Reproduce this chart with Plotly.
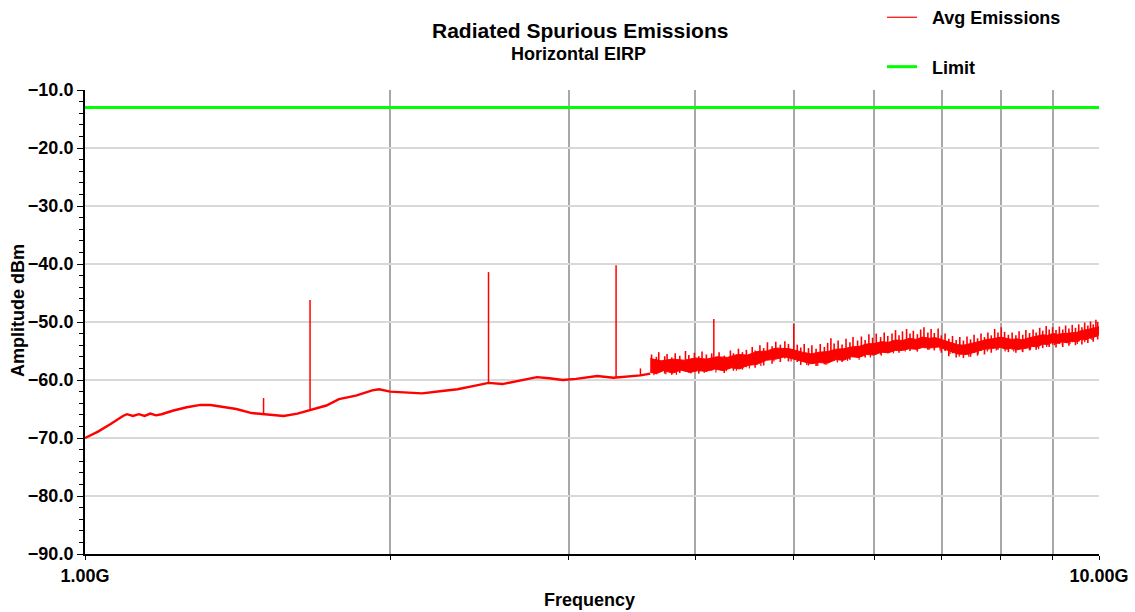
import plotly.graph_objects as go

# ---------------- data (frequencies in GHz, amplitudes in dBm) ----------------
line_freq = [1.000, 1.030, 1.060, 1.090, 1.100, 1.115, 1.130, 1.145, 1.160, 1.175,
             1.190, 1.220, 1.260, 1.300, 1.330, 1.370, 1.410, 1.460, 1.520, 1.570,
             1.620, 1.667, 1.700, 1.730, 1.780, 1.850, 1.920, 1.950, 2.000, 2.080,
             2.150, 2.250, 2.330, 2.420, 2.500, 2.580, 2.650, 2.720, 2.790, 2.870,
             2.960, 3.050, 3.200, 3.320, 3.450, 3.530, 3.610]
line_amp = [-70.0, -68.9, -67.6, -66.2, -65.9, -66.2, -65.9, -66.2, -65.8, -66.1,
            -65.9, -65.3, -64.7, -64.3, -64.3, -64.6, -65.0, -65.7, -66.0, -66.2,
            -65.8, -65.2, -64.9, -64.4, -63.3, -62.7, -61.8, -61.6, -62.0, -62.1,
            -62.3, -61.9, -61.6, -61.0, -60.5, -60.7, -60.3, -59.8, -59.5, -59.7,
            -60.0, -59.8, -59.3, -59.6, -59.4, -59.2, -58.9]

band_top_freq = [3.61, 3.70, 3.80, 3.90, 4.00, 4.10, 4.20, 4.30, 4.40, 4.50,
                 4.60, 4.70, 4.80, 4.95, 5.10, 5.20, 5.30, 5.40, 5.50, 5.60,
                 5.70, 5.80, 5.90, 6.00, 6.10, 6.20, 6.30, 6.40, 6.50, 6.60,
                 6.70, 6.80, 6.90, 7.05, 7.15, 7.25, 7.35, 7.45, 7.55, 7.65,
                 7.75, 7.85, 8.00, 8.10, 8.20, 8.30, 8.40, 8.50, 8.60, 8.70,
                 8.80, 8.90, 9.00, 9.10, 9.20, 9.30, 9.40, 9.50, 9.60, 9.70,
                 9.80, 9.90, 10.00]
band_top_amp = [-56.3, -56.7, -56.4, -56.6, -56.2, -56.4, -56.0, -56.1, -55.6, -55.7,
                -55.1, -55.0, -54.5, -54.6, -55.2, -55.5, -55.2, -55.1, -54.7, -54.6,
                -54.3, -54.2, -53.8, -53.7, -53.4, -53.5, -53.1, -53.2, -52.8, -53.0,
                -52.6, -52.8, -52.7, -53.2, -53.6, -53.9, -54.0, -53.8, -53.6, -53.3,
                -53.0, -52.9, -52.6, -52.8, -53.0, -52.9, -53.1, -52.8, -52.6, -52.5,
                -52.2, -52.3, -52.0, -52.1, -52.0, -51.9, -51.8, -51.8, -51.5, -51.4,
                -51.2, -51.0, -50.8]

band_bot_freq = [3.61, 3.66, 3.72, 3.80, 3.87, 3.95, 4.02, 4.10, 4.18, 4.26,
                 4.34, 4.42, 4.50, 4.60, 4.70, 4.80, 4.90, 5.00, 5.10, 5.20,
                 5.30, 5.40, 5.50, 5.60, 5.70, 5.80, 5.90, 6.00, 6.10, 6.20,
                 6.30, 6.40, 6.50, 6.60, 6.70, 6.80, 6.95, 7.10, 7.25, 7.40,
                 7.55, 7.70, 7.85, 8.00, 8.10, 8.20, 8.30, 8.40, 8.50, 8.60,
                 8.70, 8.80, 8.90, 9.00, 9.10, 9.20, 9.30, 9.40, 9.50, 9.60,
                 9.70, 9.80, 9.90, 10.00]
band_bot_amp = [-58.7, -58.9, -58.4, -58.8, -58.3, -58.7, -58.4, -58.5, -58.1, -58.4,
                -57.9, -58.1, -57.5, -57.3, -56.6, -56.4, -56.0, -56.4, -56.8, -57.2,
                -57.0, -57.1, -56.5, -56.6, -56.0, -56.1, -55.6, -55.7, -55.2, -55.3,
                -54.9, -54.9, -54.6, -54.7, -54.4, -54.5, -54.3, -54.9, -55.5, -55.6,
                -55.2, -54.7, -54.6, -54.4, -54.7, -54.5, -54.8, -54.6, -54.5, -54.2,
                -54.3, -53.8, -53.9, -53.5, -53.7, -53.4, -53.6, -53.3, -53.4, -53.0,
                -53.1, -52.7, -52.6, -52.2]

# tips of the narrow noise peaks that rise above the dense band
noise_peak_freq = [3.62, 3.66, 3.68, 3.73, 3.75, 3.79, 3.82, 3.86, 3.91, 3.94,
                   3.99, 4.03, 4.06, 4.10, 4.15, 4.22, 4.27, 4.33, 4.36, 4.41,
                   4.45, 4.49, 4.55, 4.58, 4.63, 4.67, 4.71, 4.76, 4.80, 4.85,
                   4.90, 4.94, 5.04, 5.08, 5.12, 5.17, 5.21, 5.26, 5.31, 5.36,
                   5.40, 5.44, 5.48, 5.53, 5.58, 5.63, 5.68, 5.72, 5.78, 5.83,
                   5.88, 5.93, 5.98, 6.03, 6.09, 6.14, 6.19, 6.25, 6.30, 6.35,
                   6.40, 6.46, 6.51, 6.56, 6.62, 6.67, 6.72, 6.78, 6.83, 6.88,
                   6.94, 6.99, 7.05, 7.11, 7.17, 7.23, 7.29, 7.35, 7.41, 7.47,
                   7.53, 7.59, 7.65, 7.71, 7.77, 7.83, 7.89, 7.95, 8.01, 8.07,
                   8.14, 8.21, 8.28, 8.34, 8.41, 8.47, 8.54, 8.61, 8.67, 8.74,
                   8.80, 8.87, 8.93, 9.00, 9.07, 9.14, 9.21, 9.27, 9.34, 9.41,
                   9.48, 9.55, 9.62, 9.68, 9.75, 9.81, 9.87, 9.93, 9.97]
noise_peak_amp = [-55.6, -56.0, -55.2, -55.9, -55.5, -56.1, -55.4, -55.8, -55.0, -55.7,
                  -55.3, -55.9, -55.1, -55.6, -55.4, -55.2, -55.8, -54.9, -55.4, -54.6,
                  -55.2, -54.8, -54.3, -54.9, -54.0, -54.5, -53.5, -54.2, -53.4, -53.9,
                  -53.3, -53.8, -53.9, -54.4, -53.8, -54.5, -54.0, -54.6, -53.8, -54.3,
                  -53.6, -52.8, -53.7, -53.2, -53.9, -52.9, -53.5, -52.6, -53.2, -52.5,
                  -53.1, -52.1, -52.7, -52.0, -52.6, -51.8, -52.4, -52.0, -51.4, -52.3,
                  -51.6, -51.2, -52.0, -51.5, -52.1, -51.3, -50.9, -51.8, -51.2, -51.9,
                  -51.1, -52.3, -52.0, -52.9, -52.4, -53.1, -52.6, -53.2, -52.5, -53.0,
                  -52.2, -52.8, -52.0, -52.6, -51.8, -52.3, -51.2, -51.8, -50.9, -51.7,
                  -52.2, -51.8, -52.3, -51.6, -52.2, -51.4, -51.9, -51.3, -51.8, -51.0,
                  -51.5, -50.7, -51.3, -50.9, -51.4, -50.8, -51.3, -50.6, -51.1, -50.5,
                  -51.0, -50.4, -50.9, -50.1, -50.6, -49.9, -50.4, -49.6, -50.0]
noise_peak_depth = 3.0  # drawn length of each upward noise peak, dB

# tips of the narrow noise dips below the dense band
noise_dip_freq = [3.64, 3.74, 3.83, 3.96, 4.08, 4.19, 4.29, 4.39, 4.52, 4.64,
                  4.78, 4.97, 5.15, 5.28, 5.38, 5.52, 5.65, 5.80, 5.95, 6.10,
                  6.27, 6.44, 6.62, 6.80, 6.97, 7.13, 7.28, 7.44, 7.60, 7.76,
                  7.92, 8.08, 8.24, 8.40, 8.56, 8.72, 8.88, 9.04, 9.20, 9.36,
                  9.52, 9.68, 9.84]
noise_dip_amp = [-59.2, -59.0, -59.1, -58.9, -58.8, -58.7, -58.5, -58.4, -58.0, -57.6,
                 -56.8, -56.8, -57.4, -57.6, -57.4, -57.0, -56.7, -56.5, -56.1, -55.8,
                 -55.4, -55.1, -55.0, -54.8, -54.9, -55.5, -56.0, -56.0, -55.5, -55.1,
                 -54.9, -55.1, -55.1, -55.1, -54.8, -54.7, -54.3, -54.0, -54.0, -53.8,
                 -53.8, -53.5, -53.1]
noise_dip_depth = 2.0  # drawn length of each downward noise dip, dB

spike_freq = [1.50, 1.667, 2.50, 3.34, 3.53, 4.17, 5.00]
spike_base = [-65.8, -65.2, -60.5, -59.6, -59.2, -56.5, -55.0]
spike_peak = [-63.1, -46.2, -41.4, -40.2, -58.0, -49.5, -50.3]

limit_freq = [1.0, 10.0]
limit_amp = [-13.0, -13.0]

y_ticks = [-90, -80, -70, -60, -50, -40, -30, -20, -10]
x_ticks = [1, 2, 3, 4, 5, 6, 7, 8, 9, 10]
x_ticktext = ["1.00G", "", "", "", "", "", "", "", "", "10.00G"]

# ---------------- figure ----------------
RED = "#ff0000"
GREEN = "#00ff00"
FONT = "Liberation Sans, Arial, sans-serif"
NB = "\u00a0\u00a0"

fig = go.Figure()

# dense noise band (polygon: top envelope then bottom envelope reversed)
fig.add_trace(go.Scatter(
    x=band_top_freq + band_bot_freq[::-1],
    y=band_top_amp + band_bot_amp[::-1],
    mode="lines", fill="toself", fillcolor=RED,
    line=dict(color=RED, width=1),
    legendgroup="avg", showlegend=False, hoverinfo="skip"))

# narrow noise peaks
nx, ny = [], []
for f, p in zip(noise_peak_freq, noise_peak_amp):
    nx += [f, f, None]
    ny += [p, p - noise_peak_depth, None]
fig.add_trace(go.Scatter(x=nx, y=ny, mode="lines",
                         line=dict(color=RED, width=1.6),
                         legendgroup="avg", showlegend=False, hoverinfo="skip"))

# continuous low-frequency trace
fig.add_trace(go.Scatter(x=line_freq, y=line_amp, mode="lines",
                         line=dict(color=RED, width=2.4),
                         legendgroup="avg", showlegend=False))

# discrete spurs
sx, sy = [], []
for f, b, p in zip(spike_freq, spike_base, spike_peak):
    sx += [f, f, None]
    sy += [b, p, None]
fig.add_trace(go.Scatter(x=sx, y=sy, mode="lines",
                         line=dict(color=RED, width=1.5),
                         legendgroup="avg", showlegend=False))

# narrow noise dips (carries the thin legend entry)
dx, dy = [], []
for f, p in zip(noise_dip_freq, noise_dip_amp):
    dx += [f, f, None]
    dy += [p, p + noise_dip_depth, None]
fig.add_trace(go.Scatter(x=dx, y=dy, mode="lines",
                         line=dict(color=RED, width=1.2),
                         name=NB + "Avg Emissions", legendgroup="avg"))

fig.add_trace(go.Scatter(x=limit_freq, y=limit_amp, mode="lines",
                         line=dict(color=GREEN, width=3),
                         name=NB + "Limit", legendgroup="lim"))

fig.update_layout(
    width=1135, height=612,
    margin=dict(l=85, r=36, t=90, b=58, autoexpand=False),
    paper_bgcolor="white", plot_bgcolor="white",
    font=dict(family=FONT, size=18, color="black", weight="bold"),
    showlegend=True,
    legend=dict(x=0.786, y=1.196, xanchor="left", yanchor="top",
                traceorder="grouped", tracegroupgap=23,
                font=dict(family=FONT, size=18, color="black", weight="bold"),
                bgcolor="rgba(0,0,0,0)"),
    xaxis=dict(type="log", range=[0, 1],
               tickvals=x_ticks, ticktext=x_ticktext,
               showgrid=True, gridcolor="#a8a8a8", gridwidth=1.5,
               showline=True, linecolor="black", linewidth=2,
               ticks="outside", ticklen=4, tickcolor="black",
               zeroline=False,
               tickfont=dict(family=FONT, size=18, color="black", weight="bold")),
    yaxis=dict(range=[-90, -10], tickvals=y_ticks, tickformat=".1f",
               showgrid=True, gridcolor="#d9d9d9", gridwidth=2,
               showline=True, linecolor="black", linewidth=2,
               ticks="outside", ticklen=6, tickcolor="black",
               minor=dict(dtick=2, ticks="outside", ticklen=4,
                          tickcolor="black", showgrid=False),
               zeroline=False,
               tickfont=dict(family=FONT, size=18, color="black", weight="bold")),
    annotations=[
        dict(text="Radiated Spurious Emissions", x=0.488, y=1.1293,
             xref="paper", yref="paper", xanchor="center", yanchor="middle",
             showarrow=False, font=dict(family=FONT, size=21, weight="bold")),
        dict(text="Horizontal EIRP", x=0.487, y=1.0776,
             xref="paper", yref="paper", xanchor="center", yanchor="middle",
             showarrow=False, font=dict(family=FONT, size=18, weight="bold")),
        dict(text="Frequency", x=0.498, y=-0.0991,
             xref="paper", yref="paper", xanchor="center", yanchor="middle",
             showarrow=False, font=dict(family=FONT, size=18, weight="bold")),
        dict(text="Amplitude dBm", x=-0.066, y=0.5237, textangle=-90,
             xref="paper", yref="paper", xanchor="center", yanchor="middle",
             showarrow=False, font=dict(family=FONT, size=18, weight="bold")),
    ],
)

fig.write_html("out.html")
